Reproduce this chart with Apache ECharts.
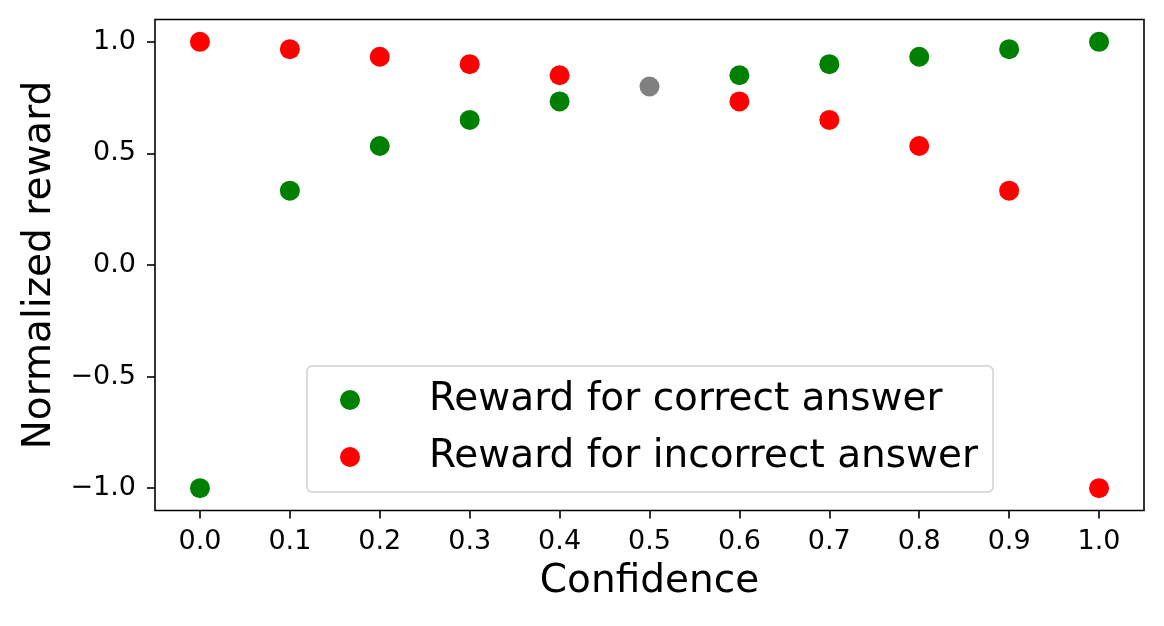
<!DOCTYPE html>
<html>
<head>
<meta charset="utf-8">
<script src="https://cdn.jsdelivr.net/npm/echarts@6/dist/echarts.min.js"></script>
<style>
  html, body { margin: 0; padding: 0; background: #fff; }
  #chart { width: 1164px; height: 626px; }
</style>
</head>
<body>
<div id="chart"></div>
<script>
// Confidence levels on the x axis
const confidence = [0.0, 0.1, 0.2, 0.3, 0.4, 0.6, 0.7, 0.8, 0.9, 1.0];
// Reward values
const rewardCorrect = [-1.0, 0.333, 0.533, 0.65, 0.733, 0.85, 0.9, 0.933, 0.967, 1.0];
const rewardIncorrect = [1.0, 0.967, 0.933, 0.9, 0.85, 0.733, 0.65, 0.533, 0.333, -1.0];
// point where both rewards are equal (drawn grey)
const equalPoint = [0.5, 0.8];

const xTicks = [0.0, 0.1, 0.2, 0.3, 0.4, 0.5, 0.6, 0.7, 0.8, 0.9, 1.0];
const yTicks = [-1.0, -0.5, 0.0, 0.5, 1.0];

const FONT = "'DejaVu Sans', sans-serif";

function fmtTick(v) {
    return v.toFixed(1).replace('-', '\u2212');
}

const chart = echarts.init(document.getElementById('chart'), null, { renderer: 'canvas' });

const option = {
    backgroundColor: '#ffffff',
    animation: false,
    textStyle: { fontFamily: FONT },
    grid: {
        left: 155, right: 20, top: 19.5, bottom: 115.5,
        show: true,
        borderColor: '#000',
        borderWidth: 1.6,
        backgroundColor: 'transparent'
    },
    legend: {
        orient: 'vertical',
        left: 307,
        top: 366,
        data: ['Reward for correct answer', 'Reward for incorrect answer'],
        icon: 'circle',
        itemWidth: 40,
        itemHeight: 20,
        itemGap: 17,
        padding: [14, 15, 15, 33],
        borderColor: '#d0d0d0',
        borderWidth: 1.5,
        borderRadius: 5,
        backgroundColor: 'rgba(255,255,255,0.8)',
        textStyle: {
            fontFamily: FONT,
            fontSize: 39,
            color: '#000',
            lineHeight: 40,
            padding: [0, 0, 0, 54]
        }
    },
    xAxis: {
        type: 'value',
        min: -0.05,
        max: 1.05,
        name: 'Confidence',
        nameLocation: 'middle',
        nameGap: 52,
        nameTextStyle: { fontFamily: FONT, fontSize: 39, color: '#000' },
        axisLine: { show: false, onZero: false },
        splitLine: { show: false },
        axisTick: {
            show: true, length: 8, inside: false,
            customValues: xTicks,
            lineStyle: { color: '#000', width: 1.6 }
        },
        axisLabel: {
            customValues: xTicks,
            formatter: fmtTick,
            margin: 18,
            fontFamily: FONT, fontSize: 27, color: '#000'
        }
    },
    yAxis: {
        type: 'value',
        min: -1.1,
        max: 1.1,
        name: 'Normalized reward',
        nameLocation: 'middle',
        nameGap: 92,
        nameTextStyle: { fontFamily: FONT, fontSize: 39, color: '#000' },
        axisLine: { show: false, onZero: false },
        splitLine: { show: false },
        axisTick: {
            show: true, length: 8, inside: false,
            customValues: yTicks,
            lineStyle: { color: '#000', width: 1.6 }
        },
        axisLabel: {
            customValues: yTicks,
            formatter: fmtTick,
            margin: 19,
            fontFamily: FONT, fontSize: 27, color: '#000'
        }
    },
    series: [
        {
            name: 'Reward for correct answer',
            type: 'scatter',
            symbolSize: 20,
            itemStyle: { color: '#008000', opacity: 1 },
            data: confidence.map((c, i) => [c, rewardCorrect[i]]),
            z: 2
        },
        {
            name: 'Reward for incorrect answer',
            type: 'scatter',
            symbolSize: 20,
            itemStyle: { color: '#ff0000', opacity: 1 },
            data: confidence.map((c, i) => [c, rewardIncorrect[i]]),
            z: 3
        },
        {
            name: 'Equal reward',
            type: 'scatter',
            symbolSize: 20,
            itemStyle: { color: '#808080', opacity: 1 },
            data: [equalPoint],
            z: 4
        }
    ]
};

chart.setOption(option);
</script>
</body>
</html>
